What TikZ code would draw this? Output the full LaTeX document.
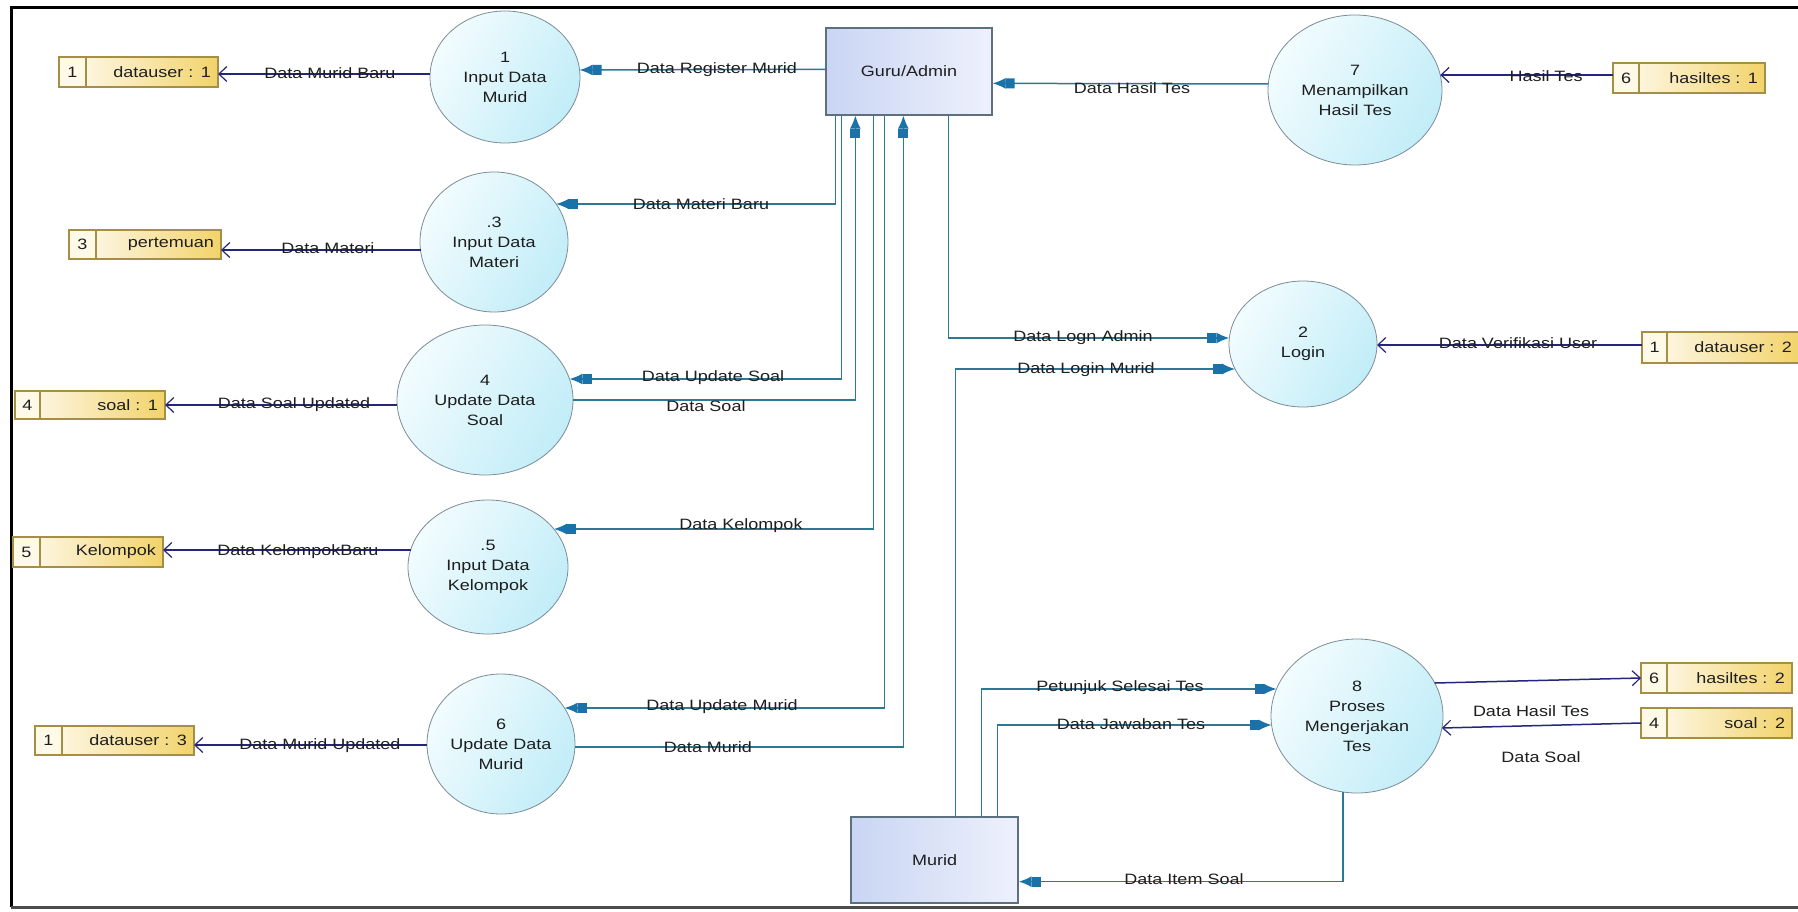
\documentclass[tikz,border=0pt]{standalone}
\usepackage{fontspec}
\setmainfont{Liberation Sans}[FakeStretch=1.2]
\usetikzlibrary{shapes.geometric,arrows.meta,calc}

\definecolor{bubbleA}{HTML}{F2FCFE}
\definecolor{bubbleB}{HTML}{C2EDF8}
\definecolor{bubbleline}{HTML}{7C8C96}
\definecolor{entA}{HTML}{C9D5F3}
\definecolor{entB}{HTML}{EEF1FC}
\definecolor{entline}{HTML}{5C7080}
\definecolor{storeA}{HTML}{FDF5DE}
\definecolor{storeB}{HTML}{F2D36A}
\definecolor{storecell}{HTML}{FFF9E8}
\definecolor{storeline}{HTML}{A58F45}
\definecolor{flowcol}{HTML}{2E7893}
\definecolor{tipcol}{HTML}{1A72A8}
\definecolor{storeflow}{HTML}{25257E}
\definecolor{txt}{HTML}{1E1E1E}

\tikzset{
  proc/.style={ellipse, draw=bubbleline, line width=0.8pt,
    left color=bubbleA, right color=bubbleB, shading angle=60,
    inner sep=0pt, align=center, text=txt,
    font=\fontsize{15}{20}\selectfont},
  entity/.style={rectangle, draw=entline, line width=1.3pt,
    left color=entA, right color=entB, inner sep=0pt, text=txt},
  storenum/.style={rectangle, draw=storeline, line width=1.1pt,
    fill=storecell, inner sep=0pt, outer sep=0pt, anchor=north west, text=txt},
  storelbl/.style={rectangle, draw=storeline, line width=1.1pt,
    left color=storeA, right color=storeB, inner xsep=7pt, inner ysep=0pt,
    outer sep=0pt, anchor=north west, align=right, text=txt},
  flow/.style={draw=flowcol, line width=1.5pt,
    -{Rectangle[length=9pt,width=10pt,sep=0pt,color=tipcol]Latex[length=13pt,width=11pt,color=tipcol]}},
  sflow/.style={draw=storeflow, line width=1.5pt,
    -{Straight Barb[length=8pt,width=15pt,line width=1.2pt]}},
  lbl/.style={inner sep=0pt, text=txt},
}

\begin{document}
\begin{tikzpicture}[x=1pt, y=-1pt, font=\fontsize{15}{19}\selectfont]
\useasboundingbox (0,0) rectangle (1798,912);
\fill[white] (0,0) rectangle (1798,912);

% frame
\draw[line width=3pt, black] (1798,8) -- (11,8) -- (11,907);
\draw[line width=3pt, black!70] (11,907) -- (1798,907);

% external entities
\node[entity, minimum width=166pt, minimum height=87pt] (Guru) at (909,71.5) {Guru/Admin};
\node[entity, minimum width=167pt, minimum height=86pt] (Murid) at (934.5,860) {Murid};

% processes
\node[proc, minimum width=150pt, minimum height=132pt] (P1) at (505,77) {1\\Input Data\\Murid};
\node[proc, minimum width=148pt, minimum height=140pt] (P3) at (494,242) {.3\\Input Data\\Materi};
\node[proc, minimum width=176pt, minimum height=150pt] (P4) at (485,400) {4\\Update Data\\Soal};
\node[proc, minimum width=160pt, minimum height=134pt] (P5) at (488,567) {.5\\Input Data\\Kelompok};
\node[proc, minimum width=148pt, minimum height=140pt] (P6) at (501,744) {6\\Update Data\\Murid};
\node[proc, minimum width=174pt, minimum height=150pt] (P7) at (1355,90) {7\\Menampilkan\\Hasil Tes};
\node[proc, minimum width=148pt, minimum height=126pt] (P2) at (1303,344) {2\\Login};
\node[proc, minimum width=172pt, minimum height=154pt] (P8) at (1357,716) {8\\Proses\\Mengerjakan\\Tes};

% data stores
\node[storenum, minimum width=27pt, minimum height=30pt] (S1n) at (59,57) {1};
\node[storelbl, minimum height=30pt, text width=118pt] (S1) at (S1n.north east) {datauser : 1};
\node[storenum, minimum width=27pt, minimum height=29pt] (S3n) at (69,230) {3};
\node[storelbl, minimum height=29pt, text width=111pt] (S3) at (S3n.north east) {pertemuan};
\node[storenum, minimum width=25pt, minimum height=28pt] (S4n) at (15,391) {4};
\node[storelbl, minimum height=28pt, text width=111pt] (S4) at (S4n.north east) {soal : 1};
\node[storenum, minimum width=27pt, minimum height=30pt] (S5n) at (13,537) {5};
\node[storelbl, minimum height=30pt, text width=109pt] (S5) at (S5n.north east) {Kelompok};
\node[storenum, minimum width=27pt, minimum height=29pt] (S6n) at (35,726) {1};
\node[storelbl, minimum height=29pt, text width=118pt] (S6) at (S6n.north east) {datauser : 3};
\node[storenum, minimum width=26pt, minimum height=30pt] (S7n) at (1613,63) {6};
\node[storelbl, minimum height=30pt, text width=112pt] (S7) at (S7n.north east) {hasiltes : 1};
\node[storenum, minimum width=25pt, minimum height=31pt] (S2n) at (1642,332) {1};
\node[storelbl, minimum height=31pt, text width=118pt] (S2) at (S2n.north east) {datauser : 2};
\node[storenum, minimum width=26pt, minimum height=30pt] (S8n) at (1641,663) {6};
\node[storelbl, minimum height=30pt, text width=111pt] (S8) at (S8n.north east) {hasiltes : 2};
\node[storenum, minimum width=26pt, minimum height=30pt] (S9n) at (1641,708) {4};
\node[storelbl, minimum height=30pt, text width=111pt] (S9) at (S9n.north east) {soal : 2};

% flows between entities and processes
\draw[flow] ($(Guru.north west)+(0,42)$) -- ($(P1)+(74.6,-7)$);
\draw[flow] ($(P7)+(-86.7,-6)$) -- ($(Guru.north east)+(0,56)$);
\draw[flow] ($(Guru.south west)+(10,0)$) |- ($(P3)+(62.1,-38)$);
\draw[flow] ($(Guru.south west)+(16,0)$) |- ($(P4)+(84.5,-21)$);
\draw[flow] (P4.east) -| ($(Guru.south west)+(30,0)$);
\draw[flow] ($(Guru.south west)+(48,0)$) |- ($(P5)+(65.9,-38)$);
\draw[flow] ($(Guru.south west)+(59,0)$) |- ($(P6)+(63.5,-36)$);
\draw[flow] ($(P6)+(74,3)$) -| ($(Guru.south west)+(78,0)$);
\draw[flow] ($(Guru.south west)+(123,0)$) |- ($(P2)+(-73.7,-6)$);
\draw[flow] ($(Murid.north west)+(105,0)$) |- ($(P2)+(-67.9,25)$);
\draw[flow] ($(Murid.north west)+(131,0)$) |- ($(P8)+(-80.5,-27)$);
\draw[flow] ($(Murid.north west)+(147,0)$) |- ($(P8)+(-85.4,9)$);
\draw[flow] ($(P8)+(-14,76)$) |- ($(Murid.south east)+(0,-22)$);

% flows to and from data stores
\draw[sflow] ($(P1)+(-74.9,-3)$) -- (S1.east |- 0,74);
\draw[sflow] ($(P3)+(-73.5,8)$) -- (S3.east |- 0,250);
\draw[sflow] ($(P4)+(-87.8,5)$) -- (S4.east |- 0,405);
\draw[sflow] ($(P5)+(-77.4,-17)$) -- (S5.east |- 0,550);
\draw[sflow] ($(P6)+(-74,1)$) -- (S6.east |- 0,745);
\draw[sflow] (S7n.west |- 0,75) -- ($(P7)+(85.2,-15)$);
\draw[sflow] (S2n.west |- 0,345) -- ($(P2)+(74,1)$);
\draw[sflow] ($(P8)+(77.7,-33)$) -- (S8n.west);
\draw[sflow] (S9n.west) -- ($(P8)+(84.9,12)$);

% flow labels
\node[lbl] (lMuridBaru) at (330,73) {Data Murid Baru};
\node[lbl] (lMateri) at (328,248) {Data Materi};
\node[lbl] (lRegister) at (717,70) {Data Register Murid};
\node[lbl] (lMateriBaru) at (701,204) {Data Materi Baru};
\node[lbl] (lHasilGuru) at (1132,88) {Data Hasil Tes};
\node[lbl] (lHasil) at (1546,76) {Hasil Tes};
\node[lbl] (lUpdSoal) at (713,378) {Data Update Soal};
\node[lbl] (lSoal) at (706,406) {Data Soal};
\node[lbl] (lKelompok) at (741,526) {Data Kelompok};
\node[lbl] (lLoginAdmin) at (1083,338) {Data Logn Admin};
\node[lbl] (lLoginMurid) at (1086,370) {Data Login Murid};
\node[lbl] (lVerif) at (1518,343) {Data Verifikasi User};
\node[lbl] (lSoalUpd) at (294,405) {Data Soal Updated};
\node[lbl] (lKelBaru) at (298,552) {Data KelompokBaru};
\node[lbl] (lMuridUpd) at (320,746) {Data Murid Updated};
\node[lbl] (lUpdMurid) at (722,707) {Data Update Murid};
\node[lbl] (lMurid) at (708,747) {Data Murid};
\node[lbl] (lPetunjuk) at (1120,688) {Petunjuk Selesai Tes};
\node[lbl] (lJawaban) at (1131,724) {Data Jawaban Tes};
\node[lbl] (lItem) at (1184,879) {Data Item Soal};
\node[lbl] (lHasilStore) at (1531,711) {Data Hasil Tes};
\node[lbl] (lSoalStore) at (1541,757) {Data Soal};
\end{tikzpicture}
\end{document}
